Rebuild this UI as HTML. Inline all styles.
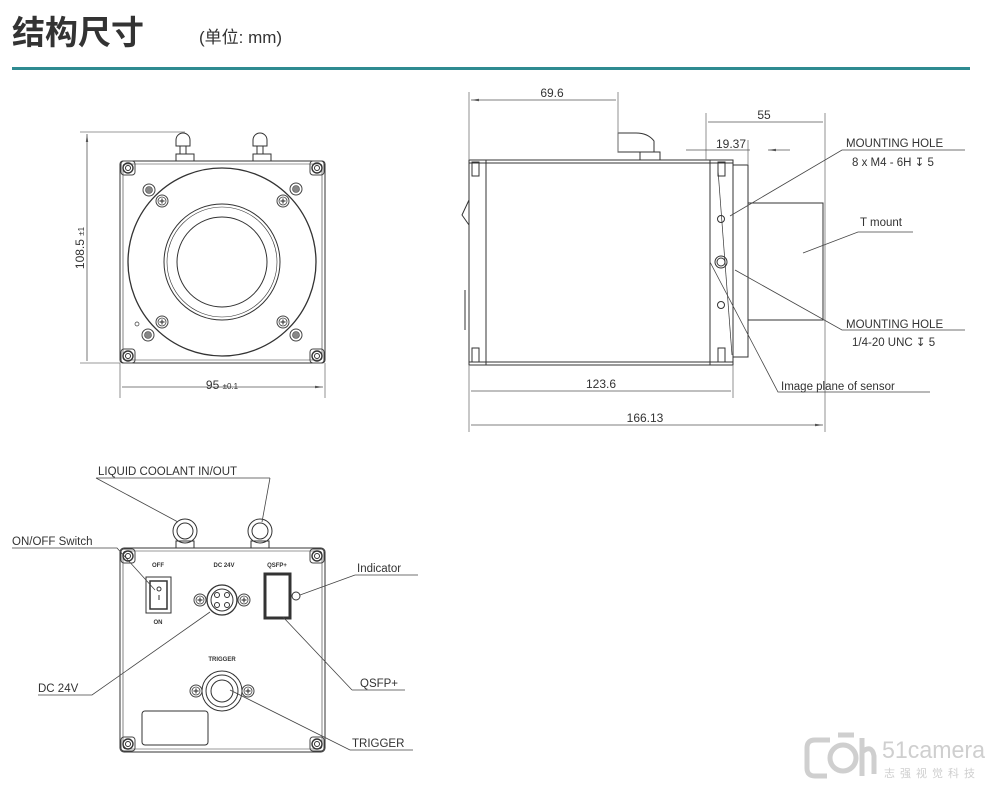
<!DOCTYPE html>
<html><head><meta charset="utf-8"><style>
html,body{margin:0;padding:0;background:#fff;}
svg{display:block;}
text{font-family:"Liberation Sans","Noto Sans CJK SC",sans-serif;fill:#333;}
</style></head><body>
<svg width="997" height="788" viewBox="0 0 997 788" xmlns="http://www.w3.org/2000/svg">
<defs>
<marker id="a" markerWidth="10" markerHeight="6" refX="10" refY="3" orient="auto-start-reverse"><path d="M0,1.5 L10,3 L0,4.5 Z" fill="#555"/></marker>
<g id="scr"><circle r="6" fill="none" stroke="#444" stroke-width="1"/><circle r="4" fill="none" stroke="#444" stroke-width="0.8"/><path d="M-2.5,0 H2.5 M0,-2.5 V2.5" stroke="#444" stroke-width="1.2"/></g>
<g id="hex"><circle r="6" fill="none" stroke="#444" stroke-width="1"/><circle r="3.5" fill="#888" stroke="#444" stroke-width="0.6"/></g>
<g id="cs"><rect x="-7" y="-7" width="14" height="14" rx="3" fill="none" stroke="#444"/><circle r="5" fill="none" stroke="#333" stroke-width="1.4"/><circle r="2.5" fill="none" stroke="#333"/></g>
</defs>
<text x="12" y="44" font-size="33" font-weight="bold" fill="#222">结构尺寸</text>
<text x="199" y="43" font-size="17" fill="#222">(单位: mm)</text>
<rect x="12" y="67" width="958" height="3" fill="#2f8b91"/>

<g stroke="#333" fill="none" stroke-width="1">
<rect x="120" y="161" width="205" height="202" rx="3"/>
<rect x="123" y="164" width="199" height="196" rx="2" stroke-width="0.6"/>
<circle cx="222" cy="262" r="94" stroke-width="1.3"/>
<circle cx="222" cy="262" r="58"/><circle cx="222" cy="262" r="55" stroke-width="0.6"/>
<circle cx="222" cy="262" r="45"/>
<circle cx="137" cy="324" r="2" stroke-width="0.7"/>
<path d="M176,140 a7,7 0 0 1 14,0 v6 h-14z M180,146 v8 h6 v-8 M176,154 h18 v7 h-18z"/>
<path d="M253,140 a7,7 0 0 1 14,0 v6 h-14z M257,146 v8 h6 v-8 M253,154 h18 v7 h-18z"/>
<path d="M80,132 H185 M80,363 H120 M120,363 V398 M325,363 V398" stroke="#777" stroke-width="0.8"/>
<path d="M87,134 V361 M122,387 H323" stroke="#555" stroke-width="0.8" marker-start="url(#a)" marker-end="url(#a)"/>

<rect x="469" y="160" width="264" height="205"/>
<path d="M486,160 V365 M710,160 V365 M469,163 H733 M469,362 H733"/>
<rect x="733" y="165" width="15" height="192"/>
<rect x="748" y="203" width="75" height="117"/>
<path d="M718,170 L732,355" stroke-width="0.7"/>
<path d="M469,200 L462,215 L469,225" />
<path d="M465,290 V330"/>
<circle cx="721" cy="219" r="3.5"/><circle cx="721" cy="262" r="6"/><circle cx="721" cy="262" r="4"/><circle cx="721" cy="305" r="3.5"/>
<rect x="472" y="162" width="7" height="14"/><rect x="472" y="348" width="7" height="14"/>
<rect x="718" y="162" width="7" height="14"/><rect x="718" y="348" width="7" height="14"/>
<path d="M618,133 h18 q12,0 18,8 v11 h-36z M640,152 h20 v8 h-20z"/>
<path d="M469,92 V160 M618,92 V152 M706,113 V160 M825,113 V432 M748,140 V165 M469,365 V432 M733,365 V398" stroke="#777" stroke-width="0.8"/>
<path d="M471,100 H616 M708,122 H823 M471,391 H731 M471,425 H823" stroke="#555" stroke-width="0.8" marker-start="url(#a)" marker-end="url(#a)"/>
<path d="M686,150 H704 M790,150 H768" stroke="#555" stroke-width="0.8" marker-end="url(#a)"/>
<path d="M704,150 H750" stroke="#555" stroke-width="0.8"/>
<path d="M730,216 L842,150 H965 M803,253 L858,232 H913 M735,270 L842,330 H965 M710,262 L778,392 H930" stroke="#444" stroke-width="0.8"/>

<rect x="120" y="548" width="205" height="204" rx="4"/>
<rect x="123" y="551" width="199" height="198" rx="3" stroke-width="0.6"/>
<circle cx="185" cy="531" r="12"/><circle cx="185" cy="531" r="8"/><path d="M176,541 h18 v7 h-18z"/>
<circle cx="260" cy="531" r="12"/><circle cx="260" cy="531" r="8"/><path d="M251,541 h18 v7 h-18z"/>
<rect x="146" y="577" width="25" height="36"/><rect x="150" y="581" width="17" height="28" stroke-width="1.5"/><circle cx="159" cy="589" r="2"/><path d="M159,595 v5"/>
<circle cx="222" cy="600" r="15" stroke-width="1.3"/><circle cx="222" cy="600" r="11"/>
<circle cx="217" cy="595" r="2.5"/><circle cx="227" cy="595" r="2.5"/><circle cx="217" cy="605" r="2.5"/><circle cx="227" cy="605" r="2.5"/>
<rect x="265" y="574" width="25" height="44" stroke-width="3"/>
<circle cx="296" cy="596" r="4"/>
<circle cx="222" cy="691" r="20"/><circle cx="222" cy="691" r="16"/><circle cx="222" cy="691" r="11"/>
<rect x="142" y="711" width="66" height="34" rx="3"/>
<path d="M96,478 H270 M96,478 L178,522 M270,478 L262,522 M12,548 H117 L155,590 M355,575 H418 M355,575 L300,595 M38,695 H92 L210,612 M352,690 H405 M352,690 L283,617 M350,750 H413 M350,750 L230,690" stroke="#444" stroke-width="0.8"/>
</g>
<use href="#cs" x="128" y="168"/><use href="#cs" x="317" y="168"/><use href="#cs" x="128" y="356"/><use href="#cs" x="317" y="356"/>
<use href="#hex" x="149" y="190"/><use href="#hex" x="296" y="189"/><use href="#hex" x="148" y="335"/><use href="#hex" x="296" y="335"/>
<use href="#scr" x="162" y="201"/><use href="#scr" x="283" y="201"/><use href="#scr" x="162" y="322"/><use href="#scr" x="283" y="322"/>
<use href="#cs" x="128" y="556"/><use href="#cs" x="317" y="556"/><use href="#cs" x="128" y="744"/><use href="#cs" x="317" y="744"/>
<use href="#scr" x="200" y="600"/><use href="#scr" x="244" y="600"/><use href="#scr" x="196" y="691"/><use href="#scr" x="248" y="691"/>

<text transform="translate(84,248) rotate(-90)" font-size="12" text-anchor="middle">108.5 <tspan font-size="8">±1</tspan></text>
<text x="222" y="389" font-size="12" text-anchor="middle">95 <tspan font-size="8">±0.1</tspan></text>
<g font-size="12" text-anchor="middle">
<text x="552" y="97">69.6</text><text x="764" y="119">55</text><text x="731" y="148">19.37</text>
<text x="601" y="388">123.6</text><text x="645" y="422">166.13</text>
</g>
<g font-size="11.5">
<text x="846" y="147">MOUNTING HOLE</text><text x="852" y="166">8 x M4 - 6H ↧ 5</text>
<text x="860" y="226">T mount</text>
<text x="846" y="328">MOUNTING HOLE</text><text x="852" y="346">1/4-20 UNC ↧ 5</text>
<text x="781" y="390">Image plane of sensor</text>
<text x="98" y="475">LIQUID COOLANT IN/OUT</text>
<text x="12" y="545">ON/OFF Switch</text>
<text x="357" y="572">Indicator</text>
<text x="38" y="692">DC 24V</text>
<text x="360" y="687">QSFP+</text>
<text x="352" y="747">TRIGGER</text>
</g>
<g font-size="6" font-weight="bold" text-anchor="middle" fill="#222">
<text x="158" y="567">OFF</text><text x="158" y="624">ON</text><text x="224" y="567">DC 24V</text><text x="277" y="567">QSFP+</text><text x="222" y="661">TRIGGER</text>
</g>
<g fill="none" stroke="#cfcfcf" stroke-width="5">
<path d="M830,740 h-15 q-8,0 -8,8 v20 q0,8 8,8 h12"/><circle cx="843" cy="758" r="13"/><path d="M838,735 h16 M862,738 v38 M862,752 q10,-8 12,4 v18"/>
</g>
<text x="882" y="758" font-size="24" style="fill:#cfcfcf" textLength="103" lengthAdjust="spacingAndGlyphs">51camera</text>
<text x="884" y="777" font-size="11" letter-spacing="5" style="fill:#cfcfcf">志强视觉科技</text>
</svg>
</body></html>
